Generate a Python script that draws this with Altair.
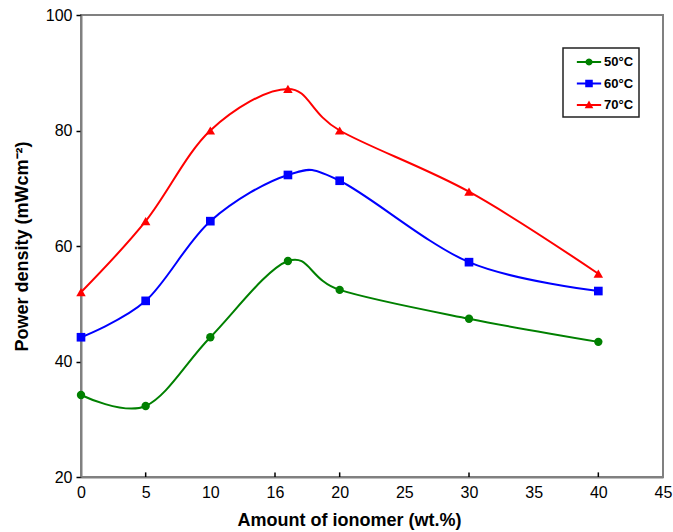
import altair as alt
import pandas as pd

# ---- data ----
x_vals = [0, 5, 10, 16, 20, 30, 40]
t50 = [34.2, 32.3, 44.2, 57.4, 52.4, 47.4, 43.4]
t60 = [44.2, 50.5, 64.3, 72.3, 71.3, 57.2, 52.2]
t70 = [52.0, 64.3, 80.0, 87.2, 80.0, 69.4, 55.2]
series = ["50°C", "60°C", "70°C"]
colors = ["#008000", "#0000ff", "#ff0000"]
shapes = ["circle", "square", "triangle-up"]
marker_sizes = [70, 75, 90]
x_label_values = [0, 5, 10, 15, 20, 25, 30, 35, 40, 45]
x_tick_marks = [5, 15, 20, 30, 40]
y_label_values = [20, 40, 60, 80, 100]

# legend glyphs: a short line segment with the series marker on it
seg = "M-1.35,-0.1L1.35,-0.1L1.35,0.1L-1.35,0.1Z"
legend_paths = [
    seg + "M0.4,0L0.346,0.2L0.2,0.346L0,0.4L-0.2,0.346L-0.346,0.2"
          "L-0.4,0L-0.346,-0.2L-0.2,-0.346L0,-0.4L0.2,-0.346L0.346,-0.2Z",
    seg + "M-0.42,-0.42L0.42,-0.42L0.42,0.42L-0.42,0.42Z",
    seg + "M0,-0.5L0.48,0.35L-0.48,0.35Z",
]

rows = []
for s, vals in zip(series, [t50, t60, t70]):
    for xv, yv in zip(x_vals, vals):
        rows.append({"x": xv, "y": yv, "series": s})
df = pd.DataFrame(rows)
ticks_df = pd.DataFrame({"x": x_tick_marks, "y": [20] * len(x_tick_marks),
                         "y2": [20.8] * len(x_tick_marks)})

xscale = alt.Scale(domain=[0, 45], nice=False, zero=False)
yscale = alt.Scale(domain=[20, 100], nice=False, zero=False)
cscale = alt.Scale(domain=series, range=colors)

xenc = alt.X("x:Q", scale=xscale, axis=alt.Axis(
    values=x_label_values, labelExpr="datum.value == 15 ? '16' : datum.label",
    ticks=False, grid=False, title="Amount of ionomer (wt.%)", labelFlush=False,
    labelPadding=7, titlePadding=11, titleX=268, titleAlign="center"))
yenc = alt.Y("y:Q", scale=yscale, axis=alt.Axis(
    values=y_label_values, ticks=True, tickSize=5, grid=False, labelFlush=False,
    title="Power density (mWcm⁻²)", labelPadding=4, titlePadding=14))

base = alt.Chart(df)

lines = base.mark_line(interpolate="cardinal", strokeWidth=2).encode(
    x=xenc, y=yenc, color=alt.Color("series:N", scale=cscale, legend=None),
    detail="series:N")

point_layers = []
for s, shp, sz in zip(series, shapes, marker_sizes):
    point_layers.append(
        base.transform_filter(alt.datum.series == s)
        .mark_point(shape=shp, filled=True, size=sz, opacity=1)
        .encode(x=xenc, y=yenc,
                color=alt.Color("series:N", scale=cscale, legend=None)))

tick_layer = alt.Chart(ticks_df).mark_rule(color="black", strokeWidth=1.5).encode(
    x=xenc, y=yenc, y2="y2:Q")

leg = alt.Legend(title=None, orient="none", legendX=482, legendY=33)
legend_layer = base.mark_point(filled=True, opacity=0).encode(
    x=xenc, y=yenc,
    color=alt.Color("series:N", scale=cscale, legend=leg),
    shape=alt.Shape("series:N", scale=alt.Scale(domain=series, range=legend_paths),
                    legend=leg))

chart = alt.layer(lines, *point_layers, tick_layer, legend_layer).resolve_legend(
    color="independent", shape="independent"
).properties(
    width=582, height=462,
    padding={"left": 81, "top": 15, "right": 10, "bottom": 55},
    autosize="none",
).configure_view(
    stroke="#808080", strokeWidth=2
).configure_axis(
    domainColor="#808080", domainWidth=2, tickColor="black", tickWidth=1.5,
    labelFont="Liberation Sans", labelFontSize=16, labelColor="black",
    titleFont="Liberation Sans", titleFontSize=18, titleFontWeight="bold",
    titleColor="black",
).configure_legend(
    strokeColor="#222222", strokeWidth=1.5, fillColor="white",
    padding=5, symbolSize=324, symbolStrokeWidth=0, symbolOpacity=1,
    symbolOffset=12,
    labelFont="Liberation Sans", labelFontSize=13, labelFontWeight="bold",
    labelColor="black", labelOffset=6, rowPadding=5.5,
)

chart.save("out.html", embed_options={"renderer": "svg", "actions": False})
